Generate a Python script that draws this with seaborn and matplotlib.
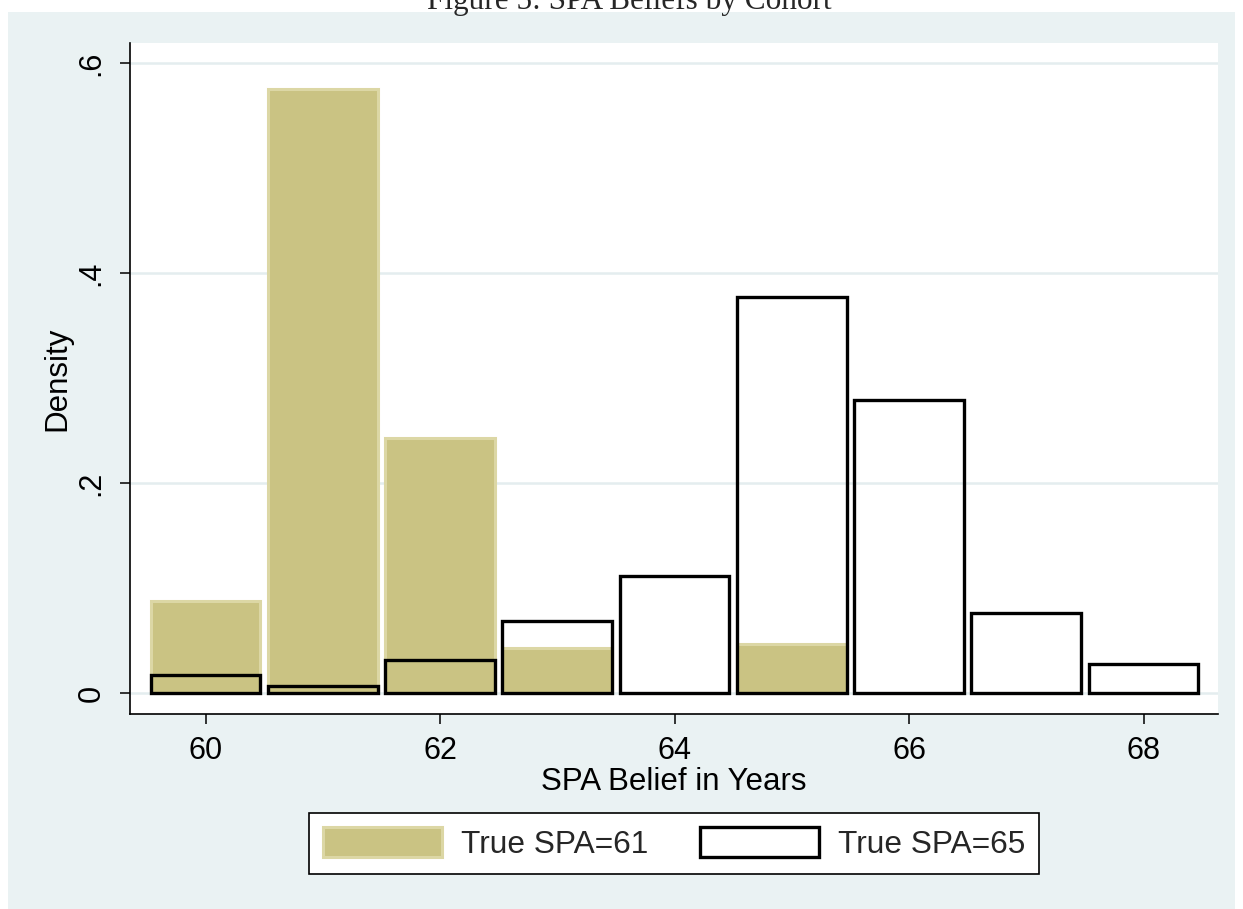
import matplotlib
matplotlib.use("Agg")
import matplotlib.pyplot as plt
import seaborn as sns
from matplotlib.patches import Patch, Rectangle

# Share of respondents by believed State Pension Age, per cohort
spa_belief = [60, 61, 62, 63, 64, 65, 66, 67, 68]
density_spa61 = [0.088, 0.575, 0.243, 0.043, 0.0, 0.047, 0.0, 0.0, 0.0]
density_spa65 = [0.017, 0.007, 0.031, 0.069, 0.111, 0.377, 0.279, 0.076, 0.028]
series_labels = ["True SPA=61", "True SPA=65"]
y_ticks = [0, 0.2, 0.4, 0.6]
y_tick_labels = ["0", ".2", ".4", ".6"]
x_ticks = [60, 62, 64, 66, 68]

BG = "#EAF2F3"
GRID = "#E4EDEF"
FILL = "#CAC383"
FILL_EDGE = "#DCD7A5"

sns.set_theme(style="white")
plt.rcParams["font.family"] = ["Liberation Sans", "DejaVu Sans"]

W, H = 1243, 909
fig = plt.figure(figsize=(W / 100, H / 100), dpi=100)
fig.patch.set_facecolor("white")
fig.add_artist(Rectangle((8 / W, 0), (1235 - 8) / W, (H - 12) / H,
                         transform=fig.transFigure, facecolor=BG,
                         edgecolor="none", zorder=-1))

fig.text(629 / W, 1 - 9 / H, "Figure 5: SPA Beliefs by Cohort",
         ha="center", va="baseline", fontsize=22.5,
         family=["Liberation Serif", "DejaVu Serif"])

ax = fig.add_axes([130 / W, 1 - 714 / H, (1218 - 130) / W, (714 - 43) / H])
ax.set_facecolor("white")

sns.histplot(x=spa_belief, weights=density_spa61, discrete=True, shrink=0.935,
             color=FILL, edgecolor=FILL_EDGE, linewidth=2.2, alpha=1,
             ax=ax, zorder=2)
sns.histplot(x=spa_belief, weights=density_spa65, discrete=True, shrink=0.935,
             fill=False, color="black", linewidth=2.4, ax=ax, zorder=3)

ax.set_xlim(59.356, 68.635)
ax.set_ylim(-0.02, 0.619)
ax.set_xticks(x_ticks)
ax.set_yticks(y_ticks, y_tick_labels)
for lab in ax.get_yticklabels():
    lab.set_rotation(90)
    lab.set_va("center")

ax.yaxis.grid(True, color=GRID, linewidth=1.8)
ax.xaxis.grid(False)
ax.set_axisbelow(True)
for side in ("top", "right"):
    ax.spines[side].set_visible(False)
for side in ("left", "bottom"):
    ax.spines[side].set_color("black")
    ax.spines[side].set_linewidth(1.2)

ax.tick_params(axis="both", bottom=True, left=True, direction="out",
               length=7, width=1.1, color="black", labelsize=22,
               labelcolor="black")
ax.tick_params(axis="x", pad=9)
ax.tick_params(axis="y", pad=10)

ax.set_xlabel("SPA Belief in Years", fontsize=22.5, color="black", labelpad=0.5)
ax.set_ylabel("Density", fontsize=22.5, color="black", labelpad=3)

handles = [
    Patch(facecolor=FILL, edgecolor=FILL_EDGE, linewidth=2.2),
    Patch(facecolor="white", edgecolor="black", linewidth=2.4),
]
leg = fig.legend(handles, series_labels, loc="center",
                 bbox_to_anchor=(674 / W, 1 - 843.5 / H), ncol=2,
                 frameon=True, fancybox=False, framealpha=1,
                 edgecolor="black", facecolor="white",
                 handlelength=3.75, handleheight=1.05, handletextpad=0.6,
                 columnspacing=1.65, borderpad=0.45, fontsize=22.8)
leg.get_frame().set_linewidth(1.2)

fig.savefig("out.png", dpi=100, facecolor=fig.get_facecolor())
